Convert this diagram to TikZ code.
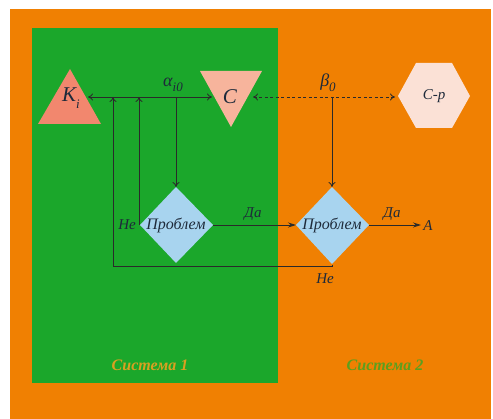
\documentclass[tikz,border=0pt]{standalone}
\usepackage{fontspec}
\setmainfont{Liberation Serif}
\usetikzlibrary{arrows.meta}
\definecolor{bgorange}{HTML}{F08002}
\definecolor{bggreen}{HTML}{1BA72B}
\definecolor{kicol}{HTML}{F2876E}
\definecolor{ccol}{HTML}{F7B49C}
\definecolor{hexcol}{HTML}{FBE1D6}
\definecolor{diacol}{HTML}{A8D4EF}
\definecolor{linecol}{HTML}{2A2A2A}
\definecolor{sysone}{HTML}{D9A021}
\definecolor{systwo}{HTML}{5C9F1E}
\definecolor{txtcol}{HTML}{1E2A3A}
\newcommand{\subtxt}[1]{\raisebox{-0.3em}{\fontsize{13}{13}\selectfont #1}}
\begin{document}
\begin{tikzpicture}[x=1pt,y=-1pt,
  conn/.style={draw=linecol,line width=0.85pt},
  opentip/.style={-{To[length=5pt,width=7pt]}},
  filltip/.style={-{Stealth[length=8pt,width=5pt]}},
  lbl/.style={font=\fontsize{15}{15}\selectfont\itshape,text=txtcol,inner sep=0pt},
  dlbl/.style={font=\fontsize{16}{16}\selectfont\itshape,text=txtcol,inner sep=0pt},
  biglbl/.style={font=\fontsize{21}{21}\selectfont\itshape,text=txtcol,inner sep=0pt},
  greeklbl/.style={font=\fontsize{18}{18}\selectfont\itshape,text=txtcol,inner sep=0pt},
  syslbl/.style={font=\fontsize{16}{16}\selectfont\bfseries\itshape,inner sep=0pt}]
\useasboundingbox (0,0) rectangle (493,419);
\fill[white] (0,0) rectangle (493,419);
\fill[bgorange] (10,9) rectangle (491,419);
\fill[bggreen] (32,28) rectangle (278,383);
% shapes
\fill[kicol] (70,69) -- (101,124) -- (38,124) -- cycle;
\fill[ccol] (200,71) -- (262,71) -- (231,127) -- cycle;
\fill[hexcol] (398,96) -- (416,63) -- (452,63) -- (470,96) -- (452,128) -- (416,128) -- cycle;
\fill[diacol] (176,187) -- (213,225) -- (176,263) -- (140,225) -- cycle;
\fill[diacol] (332,187) -- (369,225) -- (332,264) -- (296,225) -- cycle;
% nodes
\node[biglbl] (ki) at (71,98) {K\subtxt{i}};
\node[biglbl] (c) at (230,97) {C};
\node[lbl] (cp) at (434,96) {C-p};
\node[dlbl] (d1) at (176,225) {Проблем};
\node[dlbl] (d2) at (332,225) {Проблем};
\node[lbl] (a) at (428,226) {A};
\node[greeklbl] (alpha) at (173,85) {α\subtxt{i0}};
\node[greeklbl] (beta) at (328,83) {β\subtxt{0}};
\node[lbl] (da1) at (253,214) {Да};
\node[lbl] (da2) at (392,214) {Да};
\node[lbl] (ne1) at (127,225) {Не};
\node[lbl] (ne2) at (325,279) {Не};
\node[syslbl,text=sysone] (s1) at (150,365) {Система 1};
\node[syslbl,text=systwo] (s2) at (385,365) {Система 2};
% connector anchors
\coordinate (kiR) at (88,97);
\coordinate (cL) at (212,97);
\coordinate (cR) at (253,97);
\coordinate (cpL) at (395,97);
\coordinate (d1T) at (176,187);
\coordinate (d1L) at (139,225);
\coordinate (d1R) at (213,225);
\coordinate (d2T) at (332,187);
\coordinate (d2L) at (296,225);
\coordinate (d2R) at (369,225);
\coordinate (d2B) at (332,265);
\coordinate (aL) at (421,225);
\coordinate (j1) at (176,97);
\coordinate (j2) at (332,97);
\coordinate (up1) at (139,97);
\coordinate (up2) at (113,97);
% connectors
\draw[conn,{To[length=5pt,width=7pt]}-{To[length=5pt,width=7pt]}] (kiR) -- (cL);
\draw[conn,dash pattern=on 3pt off 2.5pt,{To[length=5pt,width=7pt]}-{To[length=5pt,width=7pt]}] (cR) -- (cpL);
\draw[conn,opentip] (j1) -- (d1T);
\draw[conn,opentip] (j2) -- (d2T);
\draw[conn,filltip] (d1R) -- (d2L);
\draw[conn,filltip] (d2R) -- (aL);
\draw[conn,opentip] (d1L) -- (up1);
\draw[conn,opentip] (d2B) -- (d2B |- 0,266) -- (up2 |- 0,266) -- (up2);
\end{tikzpicture}
\end{document}
